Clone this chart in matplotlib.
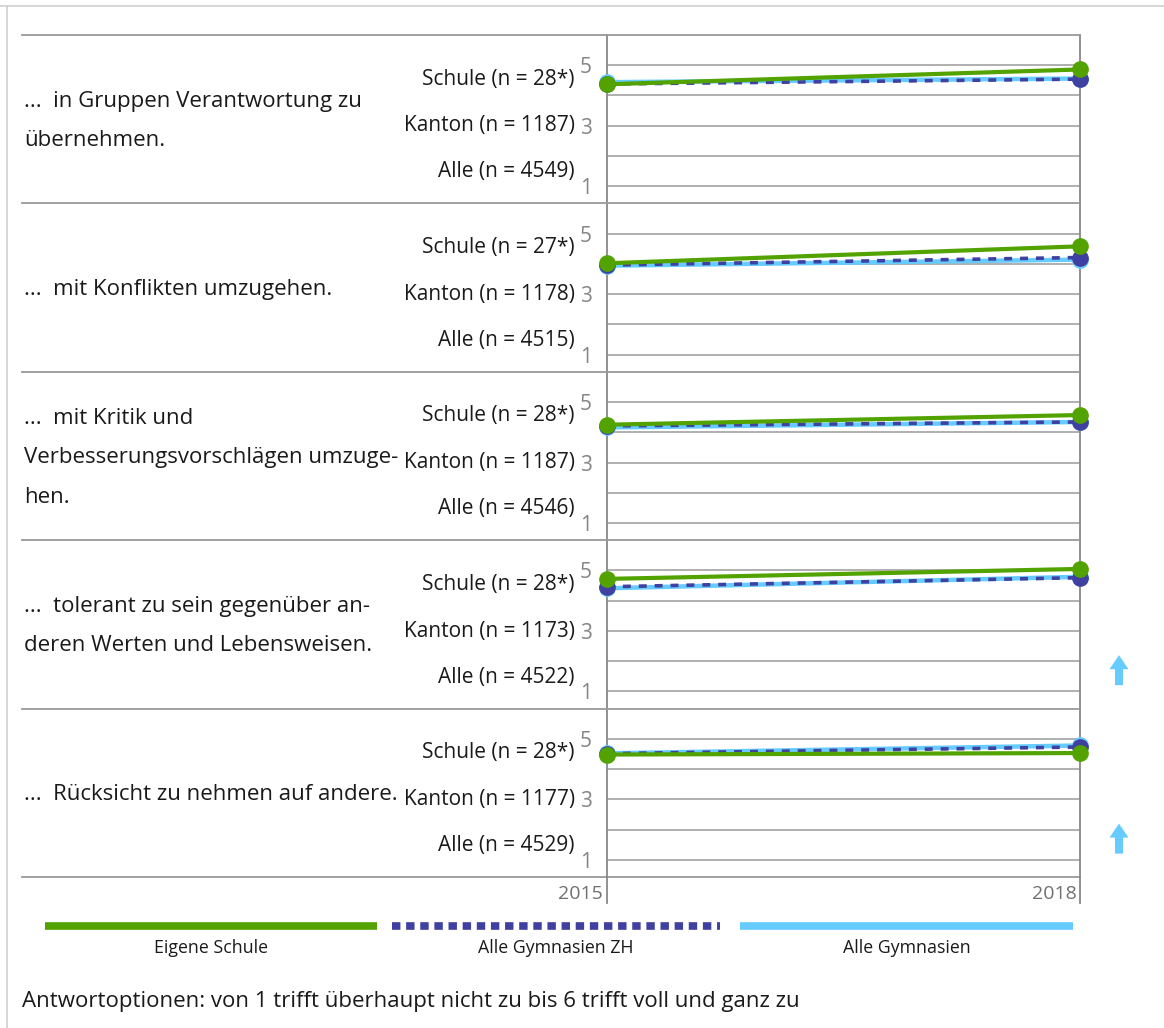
import matplotlib
matplotlib.use("Agg")
import matplotlib.pyplot as plt
from matplotlib.lines import Line2D
from matplotlib.patches import FancyArrow

plt.rcParams['font.family'] = ['Open Sans', 'DejaVu Sans']

W, H = 1164, 1028

years = [2015, 2018]
questions = [
    "...  in Gruppen Verantwortung zu\nübernehmen.",
    "...  mit Konflikten umzugehen.",
    "...  mit Kritik und\nVerbesserungsvorschlägen umzuge-\nhen.",
    "...  tolerant zu sein gegenüber an-\nderen Werten und Lebensweisen.",
    "...  Rücksicht zu nehmen auf andere.",
]
n_schule = ["28*", "27*", "28*", "28*", "28*"]
n_kanton = ["1187", "1178", "1187", "1173", "1177"]
n_alle = ["4549", "4515", "4546", "4522", "4529"]

schule = [[4.37, 4.86], [4.02, 4.58], [4.25, 4.57], [4.72, 5.05], [4.48, 4.53]]
kanton = [[4.38, 4.54], [3.96, 4.21], [4.21, 4.34], [4.46, 4.76], [4.51, 4.73]]
alle = [[4.44, 4.56], [3.94, 4.14], [4.16, 4.34], [4.41, 4.79], [4.52, 4.78]]
significant = [False, False, False, True, True]

ytick_vals = [1, 2, 3, 4, 5]
ytick_labels = ["1", "", "3", "", "5"]
legend_labels = ["Eigene Schule", "Alle Gymnasien ZH", "Alle Gymnasien"]

GREEN = "#52a300"
DBLUE = "#4040a0"
LBLUE = "#66ccff"
GRID = "#9a9a9a"
AXC = "#888888"
TXT = "#1a1a1a"

fig = plt.figure(figsize=(W / 100, H / 100), dpi=100)


def fx(x):
    return x / W


def fy(y):
    return 1 - y / H


def hline(x0, x1, y, **kw):
    fig.add_artist(Line2D([fx(x0), fx(x1)], [fy(y), fy(y)], transform=fig.transFigure, **kw))


def vline(x, y0, y1, **kw):
    fig.add_artist(Line2D([fx(x), fx(x)], [fy(y0), fy(y1)], transform=fig.transFigure, **kw))


# outer frame (light)
hline(0, W, 6, color="#d0d0d0", lw=1.2)
vline(7, 6, H, color="#d0d0d0", lw=1.2)

X0, X1 = 607, 1080
TOP, PH = 35, 168.4

for i in range(5):
    top = TOP + i * PH
    ax = fig.add_axes([fx(X0), fy(top + PH), fx(X1) - fx(X0), PH / H])
    ax.set_xlim(2015, 2018)
    ax.set_ylim(0.43, 6.0)
    ax.set_yticks(ytick_vals)
    ax.set_yticklabels(ytick_labels)
    ax.tick_params(axis='y', length=0, pad=11, labelsize=15, labelcolor="#858585")
    ax.set_xticks([])
    ax.grid(axis='y', color=GRID, lw=1.1)
    ax.set_axisbelow(True)
    for s in ['top', 'bottom']:
        ax.spines[s].set_visible(False)
    for s in ['left', 'right']:
        ax.spines[s].set_color(AXC)
        ax.spines[s].set_linewidth(1.3)
    ax.patch.set_alpha(0)

    ax.plot(years, alle[i], color=LBLUE, lw=3.2, marker='o', ms=11, clip_on=False, zorder=3)
    ax.plot(years, kanton[i], color=DBLUE, lw=2.6, marker='o', ms=11, clip_on=False, zorder=4,
            dashes=(2.2, 2.2))
    ax.plot(years, schule[i], color=GREEN, lw=3.0, marker='o', ms=11, clip_on=False, zorder=5)

    # separators
    hline(22, X1, top, color="#999999", lw=1.3)

    # question text
    fig.text(fx(24), fy(top + PH / 2 + 2), questions[i], ha='left', va='center',
             fontsize=16, color=TXT, linespacing=2.13)

    # row labels
    fig.text(fx(575), fy(top + 44), f"Schule (n = {n_schule[i]})", ha='right', va='center',
             fontsize=15, color=TXT)
    fig.text(fx(575), fy(top + 91), f"Kanton (n = {n_kanton[i]})", ha='right', va='center',
             fontsize=15, color=TXT)
    fig.text(fx(575), fy(top + 137), f"Alle (n = {n_alle[i]})", ha='right', va='center',
             fontsize=15, color=TXT)

    if significant[i]:
        cy = top + 130
        fig.add_artist(FancyArrow(fx(1119), fy(cy + 15), 0, 30 / H, width=8 / W * 1.0,
                                  head_width=19 / W, head_length=14 / H,
                                  length_includes_head=True, transform=fig.transFigure,
                                  color=LBLUE, lw=0))

bottom = TOP + 5 * PH
hline(22, X1, bottom, color="#999999", lw=1.3)
vline(X0, bottom, 903, color=AXC, lw=1.3)
vline(X1, bottom, 903, color=AXC, lw=1.3)

fig.text(fx(603), fy(894), str(years[0]), ha='right', va='center', fontsize=14, color="#707070")
fig.text(fx(1077), fy(894), str(years[1]), ha='right', va='center', fontsize=14, color="#707070")

# legend
leg_y = 926
segs = [(45, 377), (392, 720), (740, 1073)]
fig.add_artist(Line2D([fx(45), fx(377)], [fy(leg_y)] * 2, transform=fig.transFigure,
                      color=GREEN, lw=5.5, solid_capstyle='butt'))
l2 = Line2D([fx(392), fx(720)], [fy(leg_y)] * 2, transform=fig.transFigure,
            color=DBLUE, lw=5.5, dashes=(1.1, 0.75), dash_capstyle='butt')
fig.add_artist(l2)
fig.add_artist(Line2D([fx(740), fx(1073)], [fy(leg_y)] * 2, transform=fig.transFigure,
                      color=LBLUE, lw=5.5, solid_capstyle='butt'))
for (a, b), lab in zip(segs, legend_labels):
    fig.text(fx((a + b) / 2), fy(948), lab, ha='center', va='center', fontsize=12.8, color=TXT)

fig.text(fx(22), fy(1001), "Antwortoptionen: von 1 trifft überhaupt nicht zu bis 6 trifft voll und ganz zu",
         ha='left', va='center', fontsize=16, color=TXT)

fig.savefig("out.png", dpi=100)
